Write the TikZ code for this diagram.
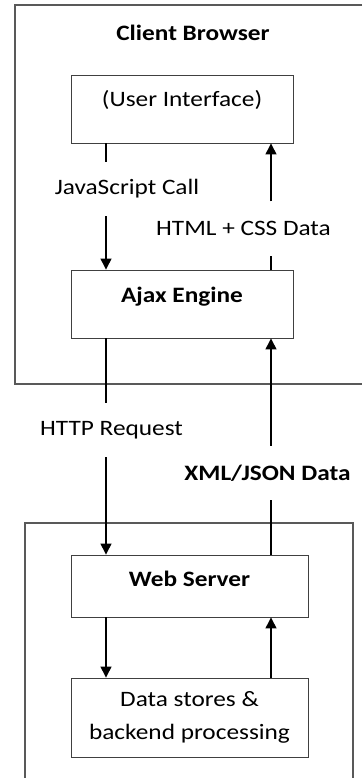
\documentclass[tikz,border=0pt]{standalone}
\usepackage{fontspec}
\setmainfont{Carlito}[FakeStretch=1.15]
\usetikzlibrary{arrows.meta}

\begin{document}
\begin{tikzpicture}[x=1pt, y=-1pt, font=\fontsize{22}{26}\selectfont,
  >={Triangle[width=11pt,length=11pt]},
  box/.style={draw=black!75, line width=0.9pt, inner sep=0pt, minimum width=222pt, text height=32pt, text depth=36pt},
  lbl/.style={inner sep=0pt, minimum height=54pt},
  conn/.style={line width=1.3pt},
  frame/.style={draw=black!65, line width=1.2pt}]
\useasboundingbox (0,0) rectangle (362,778);
\coordinate (colL) at (106,0);
\coordinate (colR) at (271,0);
% client side
\draw[frame] (362,5) -- (15,5) -- (15,384) -- (362,384);
\path (193,33) node (client) {\bfseries Client Browser};
\path (182,109) node[box] (ui) {(User Interface)};
\path (182,304) node[box] (ajax) {\bfseries Ajax Engine};
\path (127,189) node[lbl] (js) {JavaScript Call};
\path (243.5,228.5) node[lbl] (html) {HTML + CSS Data};
% in between
\path (111.5,430) node[lbl] (http) {HTTP Request};
\path (267.5,473) node[lbl] (xml) {\bfseries XML/JSON Data};
% server side
\draw[frame] (25,778) -- (25,523) -- (353,523) -- (353,778);
\path (189.5,586) node[box, minimum width=237pt, text height=31pt, text depth=31pt] (web) {\bfseries Web Server};
\path (189.5,717.5) node[box, minimum width=237pt, text height=, text depth=, minimum height=79pt, align=center, font=\fontsize{22}{33}\selectfont] (data) {Data stores \&\\backend processing};
% connectors
\draw[conn] (ui.south -| colL) -- (js.north -| colL);
\draw[conn, ->] (js.south -| colL) -- (ajax.north -| colL);
\draw[conn] (ajax.north -| colR) -- (html.south -| colR);
\draw[conn, ->] (html.north -| colR) -- (ui.south -| colR);
\draw[conn] (ajax.south -| colL) -- (http.north -| colL);
\draw[conn, ->] (http.south -| colL) -- (web.north -| colL);
\draw[conn] (web.north -| colR) -- (xml.south -| colR);
\draw[conn, ->] (xml.north -| colR) -- (ajax.south -| colR);
\draw[conn, ->] (web.south -| colL) -- (data.north -| colL);
\draw[conn, ->] (data.north -| colR) -- (web.south -| colR);
\end{tikzpicture}
\end{document}
